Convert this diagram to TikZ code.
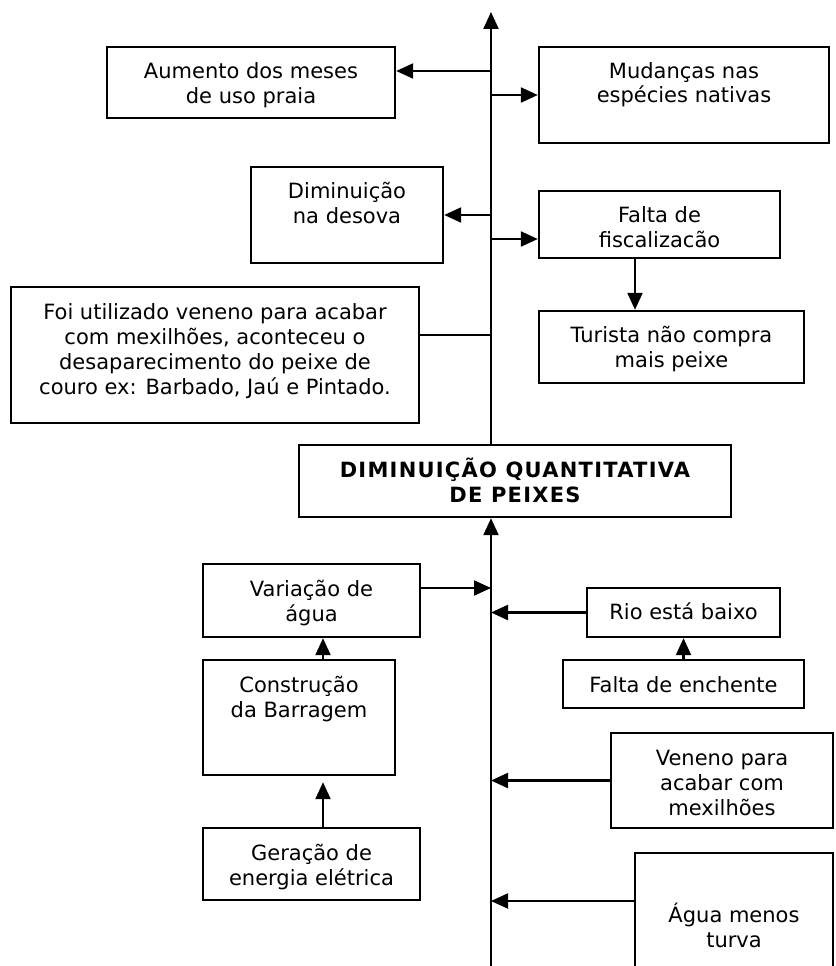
\documentclass[tikz,border=0pt]{standalone}
\usepackage{fontspec}
\setmainfont{DejaVu Sans}
\usetikzlibrary{arrows.meta}
\tikzset{
  boxst/.style={draw, line width=2.4pt, inner sep=0pt, font=\fontsize{21}{25}\selectfont},
  arr/.style={line width=2.2pt, -{Triangle[length=17pt,width=15pt]}},
  ln/.style={line width=2.2pt}
}
% name, left, top, right, bottom, first-baseline offset, text
\newcommand{\mkbox}[7]{%
  \node[boxst] (#1) at ({(#2+#4)/2},{(#3+#5)/2})
    {\parbox[c][\dimexpr#5pt-#3pt\relax][t]{\dimexpr#4pt-#2pt\relax}{\centering\rule{0pt}{#6pt}#7\par}};}
\begin{document}
\begin{tikzpicture}[x=1pt,y=-1pt]
\useasboundingbox (0,0) rectangle (835,966);

\mkbox{A}{107}{47}{395}{118}{31}{Aumento dos meses\\de uso praia}
\mkbox{B}{539}{47}{829}{143}{31}{Mudanças nas\\espécies nativas}
\mkbox{C}{251}{167}{443}{263}{31}{Diminuição\\na desova}
\mkbox{D}{539}{191}{780}{258}{31}{Falta de\\fiscalizacão}
\mkbox{E}{539}{311}{804}{383}{31}{Turista não compra\\mais peixe}
\mkbox{F}{11}{287}{419}{423}{32}{Foi utilizado veneno para acabar\\com mexilhões, aconteceu o\\desaparecimento do peixe de\\couro ex: Barbado, Jaú e Pintado.}
\mkbox{G}{299}{445}{731}{517}{32}{\bfseries\addfontfeatures{LetterSpace=6}DIMINUIÇÃO QUANTITATIVA\\DE PEIXES}
\mkbox{H}{203}{564}{420}{637}{32}{Variação de\\água}
\mkbox{I}{587}{588}{780}{637}{31}{Rio está baixo}
\mkbox{J}{563}{660}{804}{708}{32}{Falta de enchente}
\mkbox{K}{203}{660}{395}{775}{32}{Construção\\da Barragem}
\mkbox{L}{611}{733}{833}{828}{32}{Veneno para\\acabar com\\mexilhões}
\mkbox{M}{203}{828}{420}{900}{32}{Geração de\\energia elétrica}
\mkbox{N}{635}{853}{833}{1000}{69}{Água menos\\turva}

% spine
\coordinate (top) at (491,12);
\coordinate (bot) at (491,975);
\draw[arr] (G.north -| top) -- (top);
\draw[arr] (bot) -- (bot |- G.south);

% upper branches
\coordinate (sA) at (491,71);
\coordinate (sB) at (491,95);
\coordinate (sC) at (491,215);
\coordinate (sD) at (491,239);
\coordinate (sF) at (491,335);
\draw[arr] (sA) -- (sA -| A.east);
\draw[arr] (sB) -- (sB -| B.west);
\draw[arr] (sC) -- (sC -| C.east);
\draw[arr] (sD) -- (sD -| D.west);
\draw[ln] (sF -| F.east) -- (sF);
\coordinate (xDE) at (635,0);
\draw[arr] (xDE |- D.south) -- (xDE |- E.north);

% lower branches
\coordinate (sH) at (491,588);
\draw[arr] (sH -| H.east) -- (sH);
\draw[arr] (I.west) -- (I.west -| top);
\draw[arr] (J.north) -- (I.south);
\coordinate (xK) at (323,0);
\draw[arr] (xK |- K.north) -- (xK |- H.south);
\draw[arr, shorten >=6pt] (xK |- M.north) -- (xK |- K.south);
\draw[arr] (L.west) -- (L.west -| top);
\coordinate (sN) at (491,901);
\draw[arr] (sN -| N.west) -- (sN);
\end{tikzpicture}
\end{document}
